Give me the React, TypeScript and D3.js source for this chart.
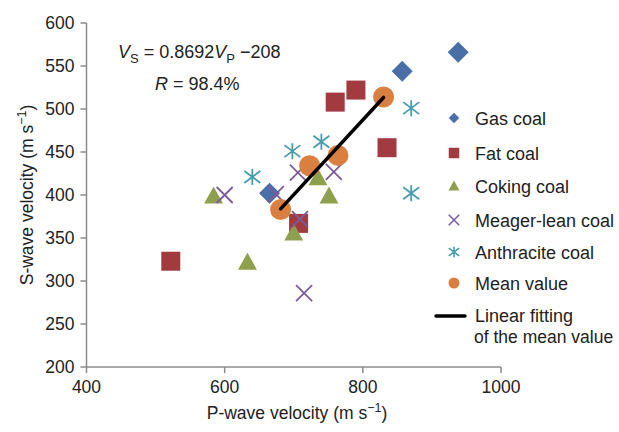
import React from 'react';
import * as d3 from 'd3';

// P-wave / S-wave velocities (m/s)
const gasCoal = [
  { p: 938, s: 566 },
  { p: 857, s: 544 },
  { p: 665, s: 402 },
];
const fatCoal = [
  { p: 522, s: 323 },
  { p: 760, s: 508 },
  { p: 790, s: 522 },
  { p: 835, s: 455 },
  { p: 707, s: 367 },
];
const cokingCoal = [
  { p: 584, s: 399 },
  { p: 633, s: 322 },
  { p: 700, s: 356 },
  { p: 751, s: 399 },
  { p: 735, s: 420 },
];
const meagerLeanCoal = [
  { p: 600, s: 400 },
  { p: 674, s: 401 },
  { p: 706, s: 426 },
  { p: 758, s: 427 },
  { p: 709, s: 372 },
  { p: 715, s: 286 },
];
const anthraciteCoal = [
  { p: 698, s: 451 },
  { p: 740, s: 462 },
  { p: 640, s: 421 },
  { p: 870, s: 501 },
  { p: 870, s: 402 },
];
const meanValue = [
  { p: 681, s: 383 },
  { p: 723, s: 434 },
  { p: 764, s: 446 },
  { p: 830, s: 514 },
];
const fitSlope = 0.8692;
const fitIntercept = -208;
const fitRange = [681, 830];

const xTicks = [400, 600, 800, 1000];
const yTicks = [200, 250, 300, 350, 400, 450, 500, 550, 600];

const colors = {
  gas: '#4a6fa7',
  fat: '#a23b3f',
  coking: '#8e9f4d',
  meager: '#7a5b9c',
  anthracite: '#4a9bae',
  mean: '#d97f3f',
};

type Kind = 'diamond' | 'square' | 'triangle' | 'x' | 'star' | 'circle';

const Marker: React.FC<{ kind: Kind; x: number; y: number; size: number; color: string }> = ({ kind, x, y, size, color }) => {
  const h = size / 2;
  if (kind === 'diamond') {
    return <path d={`M${x},${y - h}L${x + h},${y}L${x},${y + h}L${x - h},${y}Z`} fill={color} />;
  }
  if (kind === 'square') {
    return <rect x={x - h} y={y - h} width={size} height={size} fill={color} />;
  }
  if (kind === 'triangle') {
    const t = h * 1.05;
    return <path d={`M${x},${y - t}L${x + t},${y + t * 0.8}L${x - t},${y + t * 0.8}Z`} fill={color} />;
  }
  if (kind === 'circle') {
    return <circle cx={x} cy={y} r={h} fill={color} />;
  }
  if (kind === 'x') {
    return (
      <path d={`M${x - h},${y - h}L${x + h},${y + h}M${x - h},${y + h}L${x + h},${y - h}`}
        stroke={color} strokeWidth={size > 12 ? 1.8 : 1.5} fill="none" />
    );
  }
  // star: X plus vertical bar
  return (
    <path d={`M${x - h},${y - h * 0.75}L${x + h},${y + h * 0.75}M${x - h},${y + h * 0.75}L${x + h},${y - h * 0.75}M${x},${y - h}L${x},${y + h}`}
      stroke={color} strokeWidth={size > 12 ? 1.8 : 1.6} fill="none" />
  );
};

const App: React.FC = () => {
  const width = 619;
  const height = 432;
  const x = d3.scaleLinear().domain([400, 1000]).range([86.5, 501]);
  const y = d3.scaleLinear().domain([200, 600]).range([367, 23]);
  const axisColor = '#8c8c8c';
  const font = '"Liberation Sans", Arial, sans-serif';

  const series: { name: string; data: { p: number; s: number }[]; kind: Kind; color: string; size: number }[] = [
    { name: 'Gas coal', data: gasCoal, kind: 'diamond', color: colors.gas, size: 21 },
    { name: 'Fat coal', data: fatCoal, kind: 'square', color: colors.fat, size: 19 },
    { name: 'Coking coal', data: cokingCoal, kind: 'triangle', color: colors.coking, size: 18 },
    { name: 'Meager-lean coal', data: meagerLeanCoal, kind: 'x', color: colors.meager, size: 16 },
    { name: 'Anthracite coal', data: anthraciteCoal, kind: 'star', color: colors.anthracite, size: 16 },
    { name: 'Mean value', data: meanValue, kind: 'circle', color: colors.mean, size: 21 },
  ];
  const legendY = [118, 153, 186, 220, 252, 283];

  const line = d3.line<number>()
    .x(p => x(p))
    .y(p => y(fitSlope * p + fitIntercept));

  return (
    <svg width={width} height={height} style={{ position: 'absolute', left: 0, top: 0, background: '#fff' }} fontFamily={font}>
      {/* axes */}
      <line x1={x(400)} x2={x(1000)} y1={y(200)} y2={y(200)} stroke={axisColor} strokeWidth={1.5} />
      <line x1={x(400)} x2={x(400)} y1={y(200)} y2={y(600)} stroke={axisColor} strokeWidth={1.5} />
      {xTicks.map(t => (
        <g key={`x${t}`}>
          <line x1={x(t)} x2={x(t)} y1={y(200)} y2={y(200) + 6} stroke={axisColor} strokeWidth={1.5} />
          <text x={x(t)} y={y(200) + 26} textAnchor="middle" fontSize={17.5} fill="#222">{t}</text>
        </g>
      ))}
      {yTicks.map(t => (
        <g key={`y${t}`}>
          <line x1={x(400) - 6} x2={x(400)} y1={y(t)} y2={y(t)} stroke={axisColor} strokeWidth={1.5} />
          <text x={x(400) - 12} y={y(t) + 6} textAnchor="end" fontSize={17.5} fill="#222">{t}</text>
        </g>
      ))}
      <text x={297} y={419} textAnchor="middle" fontSize={17.5} fill="#222">
        P-wave velocity (m s<tspan dy={-7} fontSize={12.5}>−1</tspan><tspan dy={7}>)</tspan>
      </text>
      <text transform="translate(33,195) rotate(-90)" textAnchor="middle" fontSize={17.5} fill="#222">
        S-wave velocity (m s<tspan dy={-7} fontSize={12.5}>−1</tspan><tspan dy={7}>)</tspan>
      </text>

      {/* equation */}
      <text x={118} y={58} fontSize={18} fill="#222">
        <tspan fontStyle="italic">V</tspan><tspan dy={5} fontSize={13}>S</tspan>
        <tspan dy={-5}> = 0.8692</tspan><tspan fontStyle="italic">V</tspan><tspan dy={5} fontSize={13}>P</tspan>
        <tspan dy={-5}> −208</tspan>
      </text>
      <text x={155} y={90} fontSize={18} fill="#222">
        <tspan fontStyle="italic">R</tspan> = 98.4%
      </text>

      {/* data */}
      {series.map(s => (
        <g key={s.name}>
          {s.data.map((d, i) => (
            <Marker key={i} kind={s.kind} x={x(d.p)} y={y(d.s)} size={s.size} color={s.color} />
          ))}
        </g>
      ))}
      <path d={line(fitRange) || ''} stroke="#000" strokeWidth={3.5} fill="none" strokeLinecap="round" />

      {/* legend */}
      {series.map((s, i) => (
        <g key={`lg${s.name}`}>
          <Marker kind={s.kind} x={454} y={legendY[i]} size={s.kind === 'circle' ? 11 : 10.5} color={s.color} />
          <text x={475} y={legendY[i] + 6.5} fontSize={18} fill="#222">{s.name}</text>
        </g>
      ))}
      <line x1={436} x2={465} y1={316} y2={316} stroke="#000" strokeWidth={3.5} strokeLinecap="round" />
      <text x={475} y={322} fontSize={18} fill="#222">Linear fitting</text>
      <text x={474} y={343} fontSize={17.5} fill="#222">of the mean value</text>
    </svg>
  );
};

export default App;
